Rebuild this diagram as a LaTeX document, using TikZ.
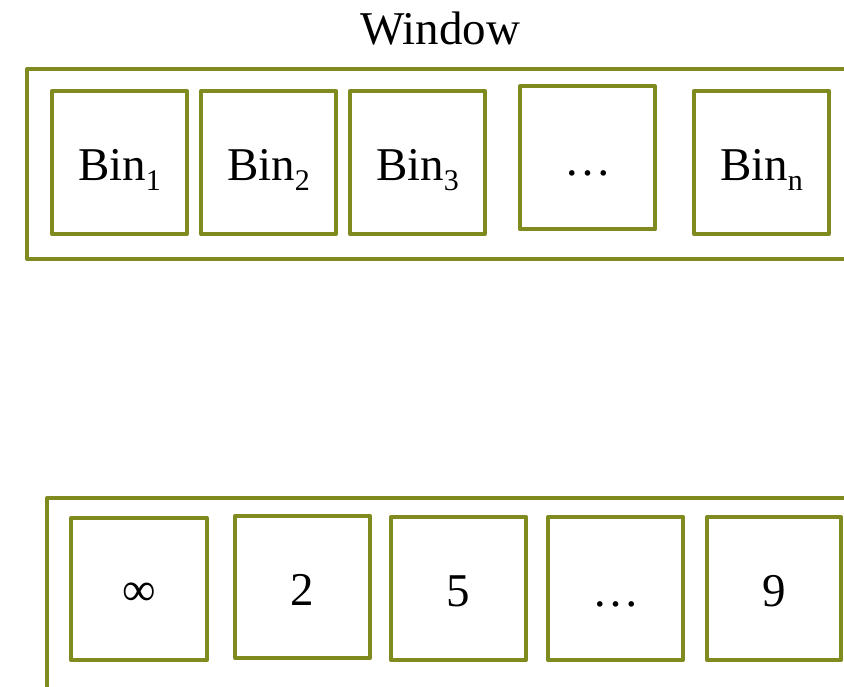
\documentclass[tikz,border=0pt]{standalone}
\usepackage{fontspec}
\setmainfont{Liberation Serif}
\definecolor{olivebox}{RGB}{127,138,31}
\newcommand{\subn}[1]{\raisebox{-10pt}{\fontsize{30}{30}\selectfont #1}}
\begin{document}
\begin{tikzpicture}[x=1pt,y=-1pt,
  box/.style={draw=olivebox, line width=4pt, line join=round, inner sep=0pt},
  binbox/.style={box, minimum width=135pt, minimum height=143pt},
  lbl/.style={anchor=base, inner sep=0pt, font=\fontsize{47}{56}\selectfont}]
\clip (0,0) rectangle (844,687);
\fill[white] (0,0) rectangle (844,687);
% outer frames
\draw[box] (27,69) coordinate (wintl) rectangle (900,259);
\draw[box] (47,498) coordinate (arrtl) rectangle (900,760);
\node[lbl] (wlabel) at (440,45) {Window};
% top bins
\node[binbox] (b1) at (119.5,162.5) {};
\node[binbox] (b2) at (268.5,162.5) {};
\node[binbox] (b3) at (417.5,162.5) {};
\node[binbox] (bd) at (587.5,158) {};
\node[binbox] (bn) at (761.5,162.5) {};
\node[lbl] (t1) at (119.5,181) {Bin\subn{1}};
\node[lbl] (t2) at (268.5,181) {Bin\subn{2}};
\node[lbl] (t3) at (417.5,181) {Bin\subn{3}};
\node[lbl] (td) at (587.5,176) {…};
\node[lbl] (tn) at (761.5,181) {Bin\subn{n}};
% bottom cells
\node[binbox, minimum width=136pt, minimum height=142pt] (c1) at (139,589) {};
\node[binbox, minimum height=142pt] (c2) at (302.5,587) {};
\node[binbox] (c3) at (458.5,588.5) {};
\node[binbox] (c4) at (615.5,588.5) {};
\node[binbox, minimum width=134pt] (c5) at (774,588.5) {};
\node[lbl] (u1) at (139,605) {∞};
\node[lbl] (u2) at (302.5,605) {2};
\node[lbl] (u3) at (458.5,606) {5};
\node[lbl] (u4) at (615.5,606) {…};
\node[lbl] (u5) at (774,606) {9};
\end{tikzpicture}
\end{document}
